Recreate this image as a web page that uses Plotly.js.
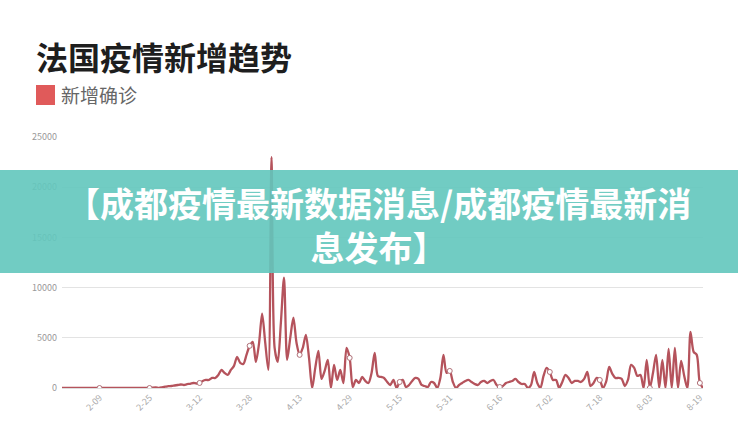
<!DOCTYPE html>
<html>
<head>
<meta charset="utf-8">
<script src="https://cdn.plot.ly/plotly-3.0.1.min.js"></script>
<style>html,body{margin:0;padding:0;background:#fff;}#chart{width:738px;height:445px;}</style>
</head>
<body>
<div id="chart"></div>
<script>
// Daily new confirmed cases, France, starting 2020-01-28
const startDate = [2020, 0, 28];
const newCases = [
  0,0,0,0,0,0,0,0,0,0,0,0,0,0,0,0,0,0,0,0,0,0,0,0,0,0,0,0,0,40,60,20,70,130,
  190,200,250,300,350,300,380,420,500,450,500,700,800,800,1000,1000,1300,1800,1500,1300,
  1800,2200,3100,2500,2400,3300,4200,4600,2600,4400,7400,4500,1800,23000,4000,2600,
  6500,11000,2800,5000,7000,4500,3300,4000,5300,3000,0,2000,3700,900,1700,2800,
  0,2300,800,1800,500,4000,3000,100,800,500,1100,700,500,1500,3500,1200,
  1100,1000,600,300,800,0,600,800,100,300,700,1000,900,300,200,100,
  600,500,0,1000,3300,1500,1700,600,0,300,500,700,800,600,400,300,
  600,700,500,700,800,300,100,200,500,600,700,900,600,400,400,0,
  300,1600,500,0,1200,2000,1600,800,800,0,600,1300,1000,500,700,700,
  600,900,1600,200,500,1000,800,0,600,2100,1400,1000,1000,900,200,800,
  2300,2000,1200,1300,0,2800,0,1500,3300,0,2800,0,3900,0,4000,0,
  2700,1200,0,5600,3600,3300,500,0
];
const tickDates = ['2020-02-09','2020-02-25','2020-03-12','2020-03-28','2020-04-13','2020-04-29','2020-05-15','2020-05-31','2020-06-16','2020-07-02','2020-07-18','2020-08-03','2020-08-19'];
const tickLabels = ['2-09','2-25','3-12','3-28','4-13','4-29','5-15','5-31','6-16','7-02','7-18','8-03','8-19'];
const yTicks = [0, 5000, 10000, 15000, 20000, 25000];
const yTickLabels = ['0', '5000', '10000', '15000', '20000', '25000'];
const chartTitle = '法国疫情新增趋势';
const seriesName = '新增确诊';
const bannerLine1 = '【成都疫情最新数据消息/成都疫情最新消';
const bannerLine2 = '息发布】';

const dates = newCases.map((_, i) => new Date(Date.UTC(startDate[0], startDate[1], startDate[2] + i)).toISOString().slice(0, 10));
const markerY = tickDates.map(d => newCases[dates.indexOf(d)]);

const FONT = '"Noto Sans CJK SC", "Noto Sans", sans-serif';
const L = 62, R = 35, T = 137, B = 57, W = 738, H = 445;
const pw = W - L - R, ph = H - T - B;
const px = x => (x - L) / pw;
const py = y => (H - B - y) / ph;

const traces = [
  {x: dates, y: newCases, type: 'scatter', mode: 'lines', name: seriesName,
   line: {color: '#b5535c', width: 2.3, shape: 'spline', smoothing: 0.8}, hoverinfo: 'x+y'},
  {x: tickDates, y: markerY, type: 'scatter', mode: 'markers', showlegend: false,
   marker: {size: 5, color: '#ffffff', line: {color: '#b07078', width: 1}}, hoverinfo: 'skip'}
];

const layout = {
  width: W, height: H,
  margin: {l: L, r: R, t: T, b: B, pad: 0},
  paper_bgcolor: '#ffffff', plot_bgcolor: '#ffffff',
  showlegend: false,
  font: {family: FONT},
  xaxis: {type: 'date', range: [dates[0], dates[dates.length - 1]],
    tickmode: 'array', tickvals: tickDates, ticktext: tickLabels, tickangle: -45,
    tickfont: {size: 9, color: '#aaaaaa', family: FONT},
    showgrid: false, zeroline: false, showline: true, linecolor: '#dddddd', linewidth: 1, ticks: ''},
  yaxis: {range: [0, 25000], tickmode: 'array', tickvals: yTicks, ticktext: yTickLabels,
    tickfont: {size: 9, color: '#999999', family: FONT},
    showgrid: true, gridcolor: '#e3e3e3', gridwidth: 1, zeroline: false, showline: false, ticks: '',
    ticklabelstandoff: 4},
  shapes: [
    {type: 'rect', xref: 'paper', yref: 'paper', x0: px(36), x1: px(55), y0: py(105), y1: py(85),
     fillcolor: '#e05a5a', line: {width: 0}},
    {type: 'rect', xref: 'paper', yref: 'paper', x0: px(-5), x1: px(745), y0: py(273), y1: py(170),
     fillcolor: 'rgba(98,198,188,0.9)', line: {width: 0}, layer: 'above'}
  ],
  annotations: [
    {xref: 'paper', yref: 'paper', x: px(34), y: py(56), xanchor: 'left', yanchor: 'middle',
     text: '<b>' + chartTitle + '</b>', showarrow: false, font: {size: 32, color: '#1e1e1e', family: FONT}},
    {xref: 'paper', yref: 'paper', x: px(59), y: py(95), xanchor: 'left', yanchor: 'middle',
     text: seriesName, showarrow: false, font: {size: 19, color: '#666666', family: FONT}},
    {xref: 'paper', yref: 'paper', x: px(378), y: py(224), xanchor: 'center', yanchor: 'middle', align: 'center',
     text: '<b>' + bannerLine1 + '<br>' + bannerLine2 + '</b>', showarrow: false,
     font: {size: 34, color: '#ffffff', family: FONT}}
  ]
};

Plotly.newPlot('chart', traces, layout, {displayModeBar: false, staticPlot: true});
</script>
</body>
</html>
